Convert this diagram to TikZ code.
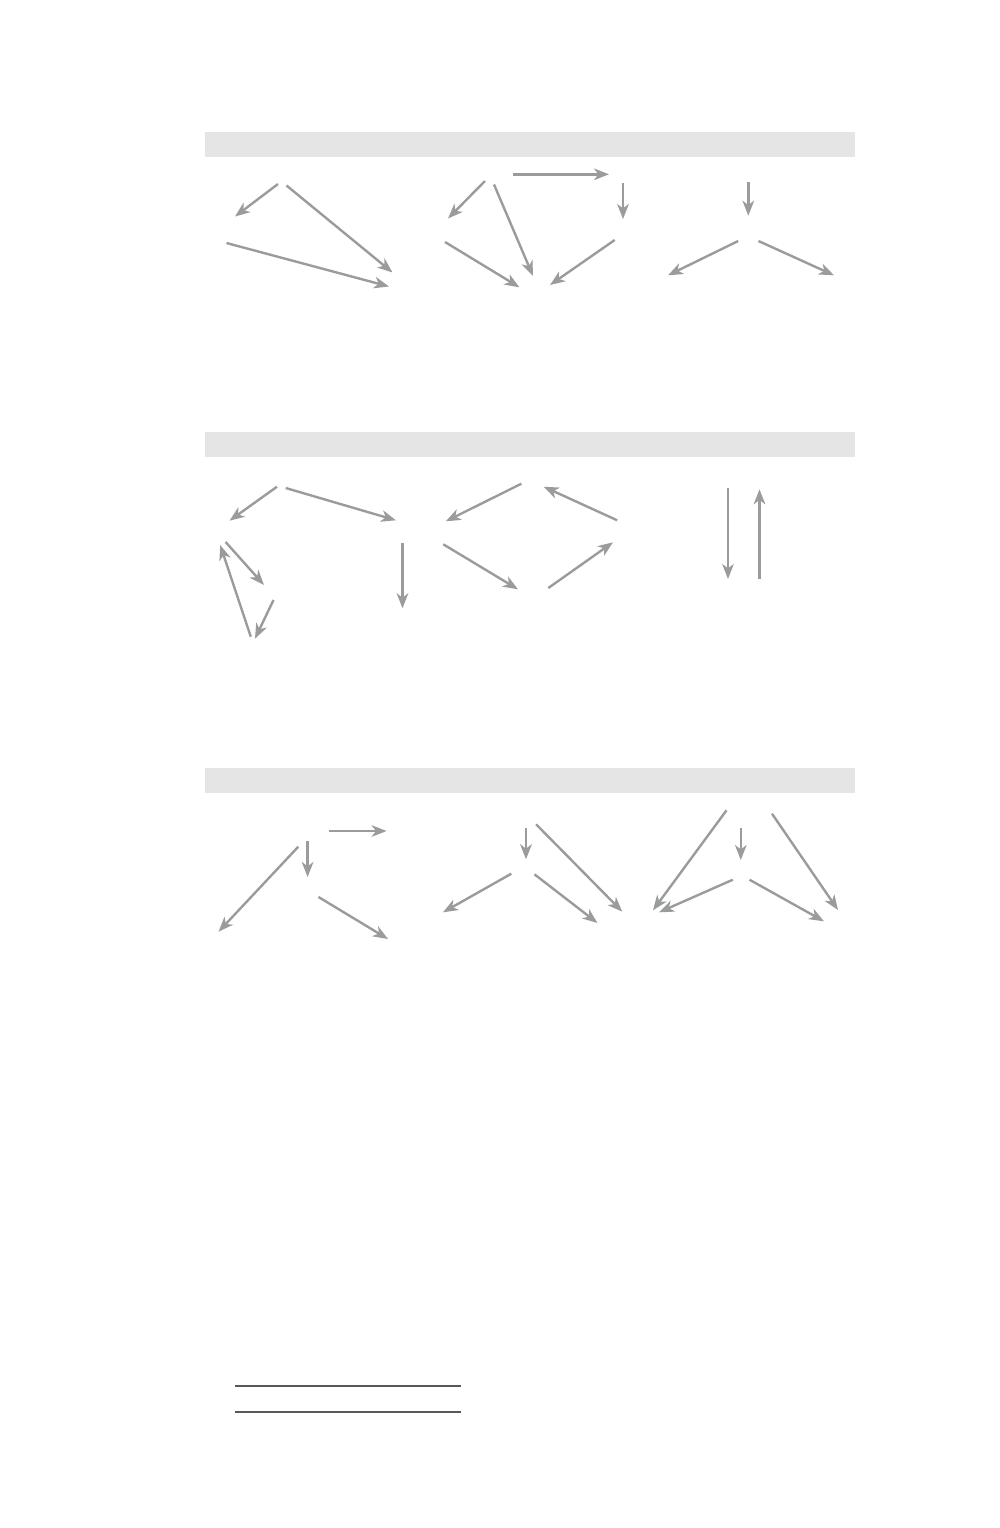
\documentclass[tikz,border=0pt]{standalone}
\usetikzlibrary{arrows.meta}
\definecolor{arrgray}{RGB}{154,156,156}
\definecolor{bargray}{RGB}{229,229,229}
\definecolor{rulegray}{RGB}{90,88,80}
\begin{document}
\begin{tikzpicture}[x=0.5pt,y=-0.5pt,
  arr/.style={draw=arrgray,line width=1.2pt,-{Stealth[length=7.5pt,width=5.8pt,inset=2.2pt]}},
  bar/.style={fill=bargray,draw=none},
  rulel/.style={draw=rulegray,line width=0.6pt}]
\useasboundingbox (0,0) rectangle (1000,1528);
% bars
\path[bar] (205,132) rectangle (855,157);
\path[bar] (205,432) rectangle (855,457);
\path[bar] (205,768) rectangle (855,793);
% panel row 1
\draw[arr] (278,184) -- (235,216.5);
\draw[arr] (286.5,185.5) -- (392.5,272.5);
\draw[arr] (226.5,243) -- (389,286.5);
\draw[arr] (485,181) -- (448,218.5);
\draw[arr] (494,184.5) -- (533,276);
\draw[arr] (513,174.3) -- (609,174.3);
\draw[arr] (623,183.3) -- (623,219);
\draw[arr] (445,242) -- (519.5,287.3);
\draw[arr] (614.7,240) -- (550,285);
\draw[arr] (748.3,182) -- (748.3,215.7);
\draw[arr] (738.2,241) -- (668,275.3);
\draw[arr] (758.5,241) -- (834,275.3);
% row 2
\draw[arr] (277,486.7) -- (229.5,520.7);
\draw[arr] (285.7,488) -- (396,520.3);
\draw[arr] (225.6,542) -- (264,585);
\draw[arr] (273.5,600) -- (255,638.7);
\draw[arr] (250.8,636.7) -- (220.2,545);
\draw[arr] (402.5,543) -- (402.5,608.3);
\draw[arr] (521.4,483.7) -- (445.8,521.3);
\draw[arr] (617.2,520.3) -- (543.7,486.7);
\draw[arr] (443.3,544.3) -- (518,589.3);
\draw[arr] (548.3,588) -- (613,542.3);
\draw[arr] (728,488) -- (728,579);
\draw[arr] (759.5,579) -- (759.5,489.3);
% row 3
\draw[arr] (328.6,831) -- (386.6,831);
\draw[arr] (307.6,841.3) -- (307.6,877);
\draw[arr] (298.3,846.7) -- (218.5,931.7);
\draw[arr] (318.5,897) -- (388,939);
\draw[arr] (526,828) -- (526,859.3);
\draw[arr] (536.1,824.3) -- (622.3,911.7);
\draw[arr] (511.3,873.7) -- (443,912.3);
\draw[arr] (534.5,874.3) -- (597.5,923);
\draw[arr] (726.5,810.3) -- (653,910.3);
\draw[arr] (740.8,828) -- (740.8,860);
\draw[arr] (772,813.7) -- (838,910);
\draw[arr] (732.8,879.7) -- (659,912.3);
\draw[arr] (749.5,879.7) -- (824,921.3);
% rules at bottom
\draw[rulel] (235,1386) -- (461,1386);
\draw[rulel] (235,1412) -- (461,1412);
\end{tikzpicture}
\end{document}
